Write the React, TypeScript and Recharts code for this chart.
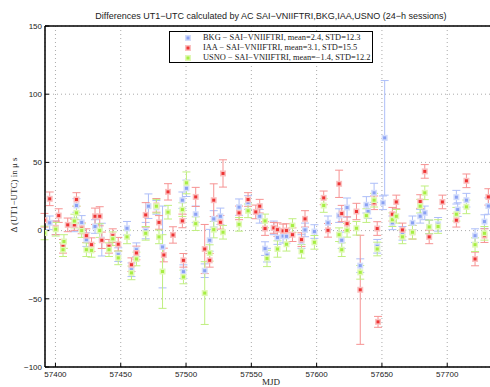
import React from 'react';
import { ComposedChart, Scatter, XAxis, YAxis, CartesianGrid, ErrorBar, ReferenceLine } from 'recharts';

// ---- Data (MJD, difference in microseconds, error) ----
const bkgMjd = [57395.6, 57400.2, 57414.5, 57416.1, 57420.1, 57423.7, 57430.3, 57435.5, 57448.1, 57454.8, 57458.2, 57462, 57469.1, 57471.2, 57477.3, 57482, 57497.2, 57498, 57500.3, 57507.4, 57514.3, 57518.1, 57521.2, 57526.3, 57540.6, 57547.5, 57556.4, 57560.5, 57562, 57567.2, 57570, 57574.3, 57576.9, 57588.4, 57591.1, 57598.3, 57608.7, 57617.2, 57619.2, 57623.3, 57633.4, 57638.1, 57639.4, 57644, 57646.4, 57650.8, 57652.1, 57658, 57665.7, 57673.4, 57679.3, 57682.8, 57686.2, 57693, 57707, 57708, 57714.7, 57721.3, 57728.5, 57731.5];
const bkgDiff = [5.7, 2, 4.2, 18.4, 6, -6.6, 3, -6.6, -17.6, 1.7, -28.7, -14, 0, 17.9, 17, -12, 22.3, -30.1, 31, 12, -29.4, -7.1, 8.6, 10.5, 17.2, 20.6, 10.5, -13.2, -18, 2, -5.1, -4, -4.2, -8, 0.5, -0.7, 5.7, 11, -7.1, 16.9, -25.7, 18.9, 14, 27.7, -11.5, 20.4, 68, 5.7, -2, 5.7, 10.5, 13, 2.7, 4.6, 24.5, 15.4, 22.3, -3.7, 6.6, 18];
const bkgErr = [5, 5, 5, 5, 5, 5, 5, 12, 5, 5, 5, 5, 6, 9, 5, 30, 6, 5, 6, 6, 5, 8, 6, 6, 6, 5, 5, 5, 5, 5, 5, 5, 5, 5, 5, 5, 5, 5, 6, 7, 5, 6, 5, 7, 5, 5, 42, 5, 5, 5, 5, 5, 5, 5, 5, 5, 5, 5, 5, 6];

const iaaMjd = [57391.6, 57395.6, 57400.2, 57402.5, 57405.8, 57409.4, 57414.5, 57416.1, 57420.1, 57423.7, 57427.6, 57430.3, 57433.9, 57435.5, 57441, 57443.9, 57448.1, 57458.2, 57462, 57469.1, 57477.3, 57479.3, 57483, 57486.2, 57490, 57497.2, 57498, 57507.4, 57514.3, 57518.1, 57521.2, 57526.3, 57528.3, 57540.6, 57547.5, 57553.4, 57556.4, 57560.5, 57567.2, 57570, 57574.3, 57576.9, 57581.5, 57588.4, 57591.1, 57605.4, 57608.7, 57617.2, 57619.2, 57623.3, 57630.5, 57633.4, 57644, 57646.4, 57647, 57658, 57661, 57665.7, 57673.4, 57679.3, 57682.8, 57686.2, 57696.3, 57707, 57714.7, 57721.3, 57728.5, 57731.5];
const iaaDiff = [7.6, 23.3, 2, 11, -11.5, 4.2, 4.2, 22.8, 1.7, -3.7, -10.3, 10.5, 10.5, -7.1, -11.5, -3.7, -10, -25, -16.4, 11.5, 18.5, 6, -17.9, 28.4, -3.2, 7.1, -21.8, 24.7, -13.5, -21.8, 22.3, 6.1, 41.9, 13, 22.8, 13.7, 17.9, 1.5, 2, 0.7, -0.2, 0, -3, -6.6, 8.6, 24, 0.2, 34.3, 12.5, 5.1, 14, -43.4, 20.4, 1.5, -66.9, 12, 21, 0.5, -1.2, 21.3, 43.4, -4.6, 21, 7.6, 36.5, -20.8, -3.7, 24.7];
const iaaErr = [5, 5, 5, 5, 5, 5, 4, 5, 4, 5, 5, 6, 7, 6, 5, 5, 5, 5, 5, 9, 5, 5, 5, 6, 6, 5, 5, 7, 18, 5, 12, 5, 10, 5, 5, 5, 5, 5, 4, 5, 5, 5, 5, 5, 6, 5, 5, 10, 6, 5, 6, 40, 5, 5, 4, 5, 5, 5, 5, 5, 5, 5, 5, 5, 5, 5, 5, 6];

const usnoMjd = [57391.6, 57400.2, 57405.8, 57406.5, 57414.5, 57416.1, 57420.1, 57423.7, 57427.6, 57433.9, 57441, 57443.9, 57448.1, 57454.8, 57458.2, 57462, 57469.1, 57477.3, 57479.3, 57482, 57486.2, 57497.2, 57498, 57500.3, 57507.4, 57514.3, 57518.1, 57521.2, 57528.3, 57540.6, 57547.5, 57560.5, 57562, 57570, 57576.9, 57581.5, 57588.4, 57598.3, 57605.4, 57617.2, 57619.2, 57623.3, 57630.5, 57633.4, 57638.1, 57644, 57646.4, 57658, 57661, 57665.7, 57673.4, 57679.3, 57682.8, 57686.2, 57693, 57707, 57714.7, 57721.3, 57728.5];
const usnoDiff = [-1.7, 1, -14, -8, 7, 13, 0, -14, -14.5, 0, -14, -6, -20, -4.6, -31, -20.8, -2, 17.9, -4.6, -30, 13.5, 15.4, -34, 35, 5.1, -45.8, -16.4, 0.7, -1.2, 4.6, 14.5, 7.1, -20.4, -13.5, -10, 3.7, -15.2, -8.6, 18.4, -3, -14, 0.2, 1.7, -30.6, 11, 22.3, -13.5, 8, 10.5, -4.6, -1.2, 17.9, 27.7, 2.7, 3, 12, 17.4, -10.3, -2];
const usnoErr = [5, 5, 5, 5, 5, 5, 5, 5, 5, 5, 5, 5, 5, 5, 5, 5, 5, 5, 5, 27, 5, 5, 5, 8, 5, 23, 6, 6, 5, 5, 5, 5, 6, 6, 5, 5, 5, 5, 5, 5, 5, 5, 5, 5, 5, 5, 5, 5, 5, 5, 5, 5, 5, 5, 5, 5, 5, 5, 5];

const xTicks = [57400, 57450, 57500, 57550, 57600, 57650, 57700];
const yTicks = [-100, -50, 0, 50, 100, 150];

const legendLabels = [
  'BKG \u2212 SAI\u2212VNIIFTRI, mean=2.4, STD=12.3',
  'IAA \u2212 SAI\u2212VNIIFTRI, mean=3.1, STD=15.5',
  'USNO \u2212 SAI\u2212VNIIFTRI, mean=\u22121.4, STD=12.2',
];

const build = (m: number[], v: number[], e: number[]) => m.map((x, i) => ({ x, y: v[i], err: e[i] }));
const bkgData = build(bkgMjd, bkgDiff, bkgErr);
const iaaData = build(iaaMjd, iaaDiff, iaaErr);
const usnoData = build(usnoMjd, usnoDiff, usnoErr);

const COLORS = {
  bkg: { halo: '#d3ddfb', core: '#8aa1f3', bar: '#adbef8' },
  iaa: { halo: '#fac0c0', core: '#ee3434', bar: '#f69393' },
  usno: { halo: '#e0f8b6', core: '#a6ee42', bar: '#c0ef80' },
};

const makeShape = (c: { halo: string; core: string }) => (props: any) => {
  const { cx, cy } = props;
  if (cx == null || cy == null) return <g />;
  return (
    <g>
      <rect x={cx - 3} y={cy - 3} width={6} height={6} fill={c.halo} />
      <rect x={cx - 1.5} y={cy - 1.5} width={3} height={3} fill={c.core} />
    </g>
  );
};

const fmtY = (v: number) => (v < 0 ? '\u2212' + Math.abs(v) : String(v));

export default function App() {
  const legendColors = [COLORS.bkg, COLORS.iaa, COLORS.usno];
  return (
    <div style={{ position: 'absolute', left: 0, top: 0, width: 490, height: 387, overflow: 'hidden', background: '#fff' }}>
      <ComposedChart width={520} height={387} margin={{ top: 26, right: 14, bottom: 0, left: 5 }}>
        <CartesianGrid stroke="#aaa" strokeDasharray="1 3" horizontal={true} vertical={true} />
        <XAxis
          type="number"
          dataKey="x"
          domain={[57392, 57745]}
          ticks={xTicks}
          allowDataOverflow
          height={20}
          axisLine={{ stroke: '#000', strokeWidth: 1.5 }}
          tickLine={{ stroke: '#000' }}
          tickSize={-4}
          tickMargin={8}
          tick={{ fill: '#222', fontSize: 8, fontFamily: 'Liberation Sans, Arial, sans-serif' }}
          interval={0}
        />
        <YAxis
          type="number"
          dataKey="y"
          domain={[-100, 150]}
          ticks={yTicks}
          allowDataOverflow
          width={40}
          axisLine={{ stroke: '#000', strokeWidth: 1.5 }}
          tickLine={{ stroke: '#000' }}
          tickSize={-4}
          tickMargin={7}
          tickFormatter={fmtY}
          tick={{ fill: '#222', fontSize: 8, fontFamily: 'Liberation Sans, Arial, sans-serif' }}
          interval={0}
        />
        <ReferenceLine y={150} stroke="#000" strokeWidth={1.5} />
        <Scatter data={bkgData} isAnimationActive={false} shape={makeShape(COLORS.bkg)}>
          <ErrorBar dataKey="err" direction="y" width={4} stroke={COLORS.bkg.bar} strokeWidth={1} />
        </Scatter>
        <Scatter data={iaaData} isAnimationActive={false} shape={makeShape(COLORS.iaa)}>
          <ErrorBar dataKey="err" direction="y" width={4} stroke={COLORS.iaa.bar} strokeWidth={1} />
        </Scatter>
        <Scatter data={usnoData} isAnimationActive={false} shape={makeShape(COLORS.usno)}>
          <ErrorBar dataKey="err" direction="y" width={4} stroke={COLORS.usno.bar} strokeWidth={1} />
        </Scatter>
      </ComposedChart>

      <div style={{ position: 'absolute', left: 0, width: 542, top: 10, textAlign: 'center', fontFamily: 'Liberation Sans, Arial, sans-serif', fontSize: 9, color: '#222', lineHeight: '12px', whiteSpace: 'nowrap' }}>
        Differences UT1{'\u2212'}UTC calculated by AC SAI{'\u2212'}VNIIFTRI,BKG,IAA,USNO (24{'\u2212'}h sessions)
      </div>

      <div style={{ position: 'absolute', left: 169, top: 31, width: 202, height: 30, border: '1px solid #000', background: '#fff' }}>
        {legendLabels.map((t, i) => (
          <div key={t} style={{ position: 'absolute', left: 0, top: 1 + i * 10, height: 10, width: 202, whiteSpace: 'nowrap' }}>
            <svg width={10} height={10} style={{ position: 'absolute', left: 13, top: 0 }}>
              <rect x={2} y={2} width={6} height={6} fill={legendColors[i].halo} />
              <rect x={3.5} y={3.5} width={3} height={3} fill={legendColors[i].core} />
            </svg>
            <span style={{ position: 'absolute', left: 33, top: 0, fontFamily: 'Liberation Serif, Times New Roman, serif', fontSize: 8.4, lineHeight: '10px', color: '#222' }}>{t}</span>
          </div>
        ))}
      </div>

      <div style={{ position: 'absolute', left: 14, top: 195, width: 0, height: 0 }}>
        <div style={{ position: 'absolute', transform: 'translate(-50%, -50%) rotate(-90deg)', whiteSpace: 'nowrap', fontFamily: 'Liberation Serif, Times New Roman, serif', fontSize: 9, color: '#222' }}>
          {'\u0394'} (UT1{'\u2212'}UTC) in {'\u03bc'} s
        </div>
      </div>

      <div style={{ position: 'absolute', left: 0, width: 542, top: 377, textAlign: 'center', fontFamily: 'Liberation Serif, Times New Roman, serif', fontSize: 9, color: '#222', lineHeight: '10px' }}>
        MJD
      </div>
    </div>
  );
}
